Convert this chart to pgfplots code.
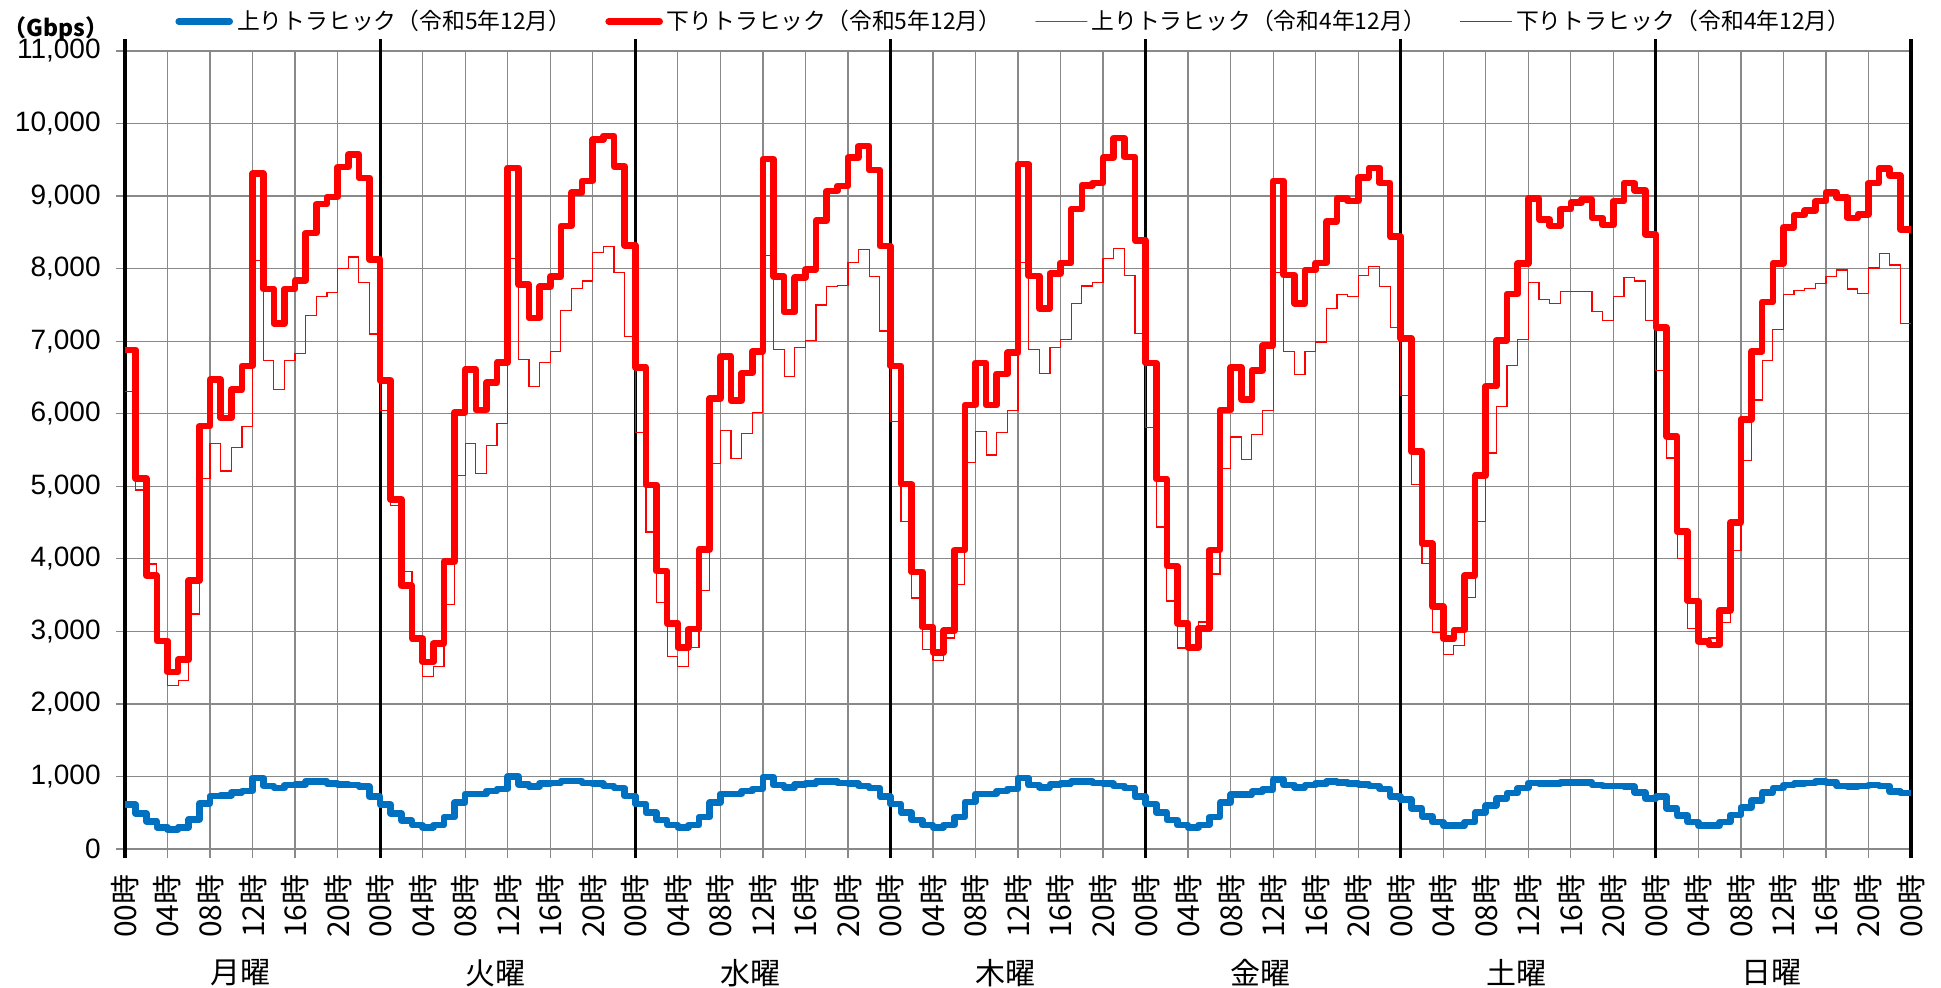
\documentclass[border=0pt]{standalone}
\usepackage{fontspec}
\setmainfont{Liberation Sans}
\newfontfamily\jp{Noto Sans CJK JP}
\usepackage{pgfplots}
\usepackage{pgfplotstable}
\pgfplotsset{compat=1.18}
\definecolor{upblue}{HTML}{0070C0}
\definecolor{dnred}{HTML}{FF0000}
\definecolor{gridgray}{HTML}{898989}

\pgfplotstableread{
h ut dt up dp
0 610 6880 600 6310
1 490 5110 480 4950
2 380 3770 370 3930
3 300 2870 290 2850
4 270 2440 260 2250
5 300 2610 290 2320
6 410 3700 400 3240
7 630 5830 610 5110
8 730 6470 720 5590
9 740 5940 730 5210
10 780 6330 770 5540
11 800 6660 790 5820
12 980 9310 960 8110
13 870 7720 860 6730
14 840 7240 830 6330
15 880 7720 870 6730
16 890 7840 880 6830
17 930 8490 920 7350
18 930 8890 920 7620
19 900 8990 890 7670
20 890 9400 880 8000
21 880 9570 870 8160
22 860 9250 850 7810
23 720 8130 710 7100
24 610 6460 600 6050
25 490 4820 480 4730
26 390 3630 380 3830
27 330 2900 320 2930
28 300 2580 290 2380
29 330 2830 320 2520
30 440 3960 430 3370
31 640 6020 630 5150
32 760 6610 750 5590
33 760 6050 750 5180
34 800 6430 790 5560
35 830 6710 820 5870
36 1000 9390 980 8140
37 890 7780 880 6750
38 860 7320 850 6370
39 900 7750 890 6710
40 910 7890 900 6860
41 940 8590 930 7420
42 940 9050 930 7730
43 910 9210 900 7830
44 900 9780 890 8220
45 870 9830 860 8310
46 840 9410 830 7950
47 730 8320 720 7070
48 620 6640 610 5740
49 500 5020 490 4370
50 400 3830 390 3400
51 330 3110 320 2650
52 300 2780 290 2520
53 330 3030 320 2780
54 440 4130 430 3560
55 640 6210 630 5310
56 760 6790 750 5770
57 760 6180 750 5380
58 800 6560 790 5730
59 830 6860 820 6020
60 990 9510 970 8180
61 880 7890 870 6890
62 850 7400 840 6510
63 890 7880 880 6910
64 900 7990 890 7010
65 930 8660 920 7500
66 930 9070 920 7750
67 910 9140 900 7770
68 900 9530 890 8090
69 870 9690 860 8260
70 840 9360 830 7890
71 720 8310 710 7140
72 620 6660 610 5890
73 500 5030 490 4520
74 400 3820 390 3460
75 330 3060 320 2750
76 300 2710 290 2600
77 330 3010 320 2910
78 440 4120 430 3650
79 650 6120 640 5330
80 760 6700 750 5760
81 760 6120 750 5430
82 800 6550 790 5740
83 830 6840 820 6040
84 980 9440 960 8080
85 880 7900 870 6890
86 850 7450 840 6560
87 890 7930 880 6910
88 900 8080 890 7020
89 930 8820 920 7520
90 930 9150 920 7760
91 910 9180 900 7810
92 900 9530 890 8140
93 870 9800 860 8280
94 840 9540 830 7910
95 720 8390 710 7110
96 620 6700 610 5810
97 500 5100 490 4440
98 400 3900 390 3420
99 330 3110 320 2770
100 300 2780 290 2760
101 330 3040 320 3130
102 440 4120 430 3790
103 640 6050 630 5250
104 750 6640 740 5680
105 750 6200 740 5370
106 790 6600 780 5710
107 820 6940 810 6040
108 960 9210 940 7950
109 880 7910 870 6860
110 850 7520 840 6540
111 880 7980 870 6860
112 900 8080 890 6990
113 930 8650 920 7450
114 920 8970 910 7640
115 900 8930 890 7620
116 890 9260 880 7910
117 870 9390 860 8030
118 830 9180 820 7750
119 720 8440 710 7190
120 680 7040 670 6250
121 560 5480 550 5020
122 450 4210 440 3940
123 370 3340 360 2980
124 320 2900 310 2680
125 320 3020 310 2800
126 370 3770 360 3470
127 500 5150 490 4510
128 600 6380 590 5460
129 700 7010 690 6100
130 770 7650 760 6660
131 840 8070 830 7020
132 910 8970 900 7810
133 900 8680 890 7580
134 900 8590 890 7520
135 920 8820 910 7680
136 920 8910 910 7680
137 920 8950 910 7680
138 880 8700 870 7410
139 870 8600 860 7290
140 870 8930 860 7620
141 860 9180 850 7880
142 780 9080 770 7830
143 700 8470 690 7290
144 720 7190 710 6600
145 560 5690 550 5390
146 460 4380 450 4000
147 370 3420 360 3040
148 320 2860 310 2860
149 320 2810 310 2910
150 370 3290 360 3120
151 470 4500 460 4120
152 570 5920 560 5360
153 670 6860 660 6190
154 780 7540 770 6730
155 840 8070 830 7160
156 880 8570 870 7640
157 900 8740 890 7700
158 910 8800 900 7730
159 930 8930 920 7800
160 920 9050 910 7890
161 870 8980 860 7980
162 860 8700 850 7720
163 870 8750 860 7660
164 880 9180 870 8010
165 870 9380 860 8210
166 790 9280 780 8050
167 770 8540 760 7240
168 770 8540 760 7240
}\traffic

\begin{document}
\begin{tikzpicture}
\path[use as bounding box] (-62.5pt,-69pt) rectangle (908pt,424.5pt);
\begin{axis}[
  at={(0pt,0pt)}, anchor=south west,
  scale only axis, width=893pt, height=399pt,
  xmin=0, xmax=168, ymin=0, ymax=11000,
  axis line style={draw=none},
  xtick={0,4,...,168},
  xticklabels={00時,04時,08時,12時,16時,20時,00時,04時,08時,12時,16時,20時,00時,04時,08時,12時,16時,20時,00時,04時,08時,12時,16時,20時,00時,04時,08時,12時,16時,20時,00時,04時,08時,12時,16時,20時,00時,04時,08時,12時,16時,20時,00時},
  xticklabel style={font=\jp\fontsize{15}{15}\selectfont, rotate=90, anchor=east, inner sep=0pt},
  xticklabel shift=8pt,
  ytick={0,1000,...,11000},
  yticklabel style={font=\fontsize{14}{14}\selectfont, anchor=east, inner sep=0pt},
  yticklabel shift=7.5pt,
  /pgf/number format/1000 sep={,},
  /pgf/number format/assume math mode=true,
  scaled y ticks=false,
  grid=major,
  grid style={gridgray, line width=0.65pt},
  tick align=outside,
  xtick pos=left, ytick pos=left,
  major tick length=4.5pt,
  tick style={gridgray, line width=0.65pt},
  clip=false,
  legend columns=4,
  legend style={draw=none, fill=none, inner sep=0pt,
    at={(axis description cs:0.028,1.037)}, anchor=west,
    font=\jp\fontsize{11.4}{11.4}\selectfont,
    /tikz/every even column/.append style={column sep=15pt}},
  legend image code/.code={\draw[#1, line cap=round] (0pt,0pt) -- (25.5pt,0pt);},
]
\draw[black, line width=1.6pt] (axis cs:0,-130) -- (axis cs:0,11170);
\draw[black, line width=1.6pt] (axis cs:24,-130) -- (axis cs:24,11170);
\draw[black, line width=1.6pt] (axis cs:48,-130) -- (axis cs:48,11170);
\draw[black, line width=1.6pt] (axis cs:72,-130) -- (axis cs:72,11170);
\draw[black, line width=1.6pt] (axis cs:96,-130) -- (axis cs:96,11170);
\draw[black, line width=1.6pt] (axis cs:120,-130) -- (axis cs:120,11170);
\draw[black, line width=1.6pt] (axis cs:144,-130) -- (axis cs:144,11170);
\draw[black, line width=1.6pt] (axis cs:168,-130) -- (axis cs:168,11170);

\addplot[const plot, upblue, line width=3.3pt, line join=round] table[x=h, y=ut] {\traffic};
\addlegendentry{上りトラヒック（令和5年12月）}
\addplot[const plot, dnred, line width=3.3pt, line join=round] table[x=h, y=dt] {\traffic};
\addlegendentry{下りトラヒック（令和5年12月）}
\addplot[const plot, upblue, line width=0.6pt] table[x=h, y=up] {\traffic};
\addlegendentry{上りトラヒック（令和4年12月）}
\addplot[const plot, dnred, line width=0.6pt] table[x=h, y=dp] {\traffic};
\addlegendentry{下りトラヒック（令和4年12月）}

\node[font=\jp\fontsize{15}{15}\selectfont, yshift=-62pt] at (axis cs:10.85,0) {月曜};
\node[font=\jp\fontsize{15}{15}\selectfont, yshift=-62pt] at (axis cs:34.85,0) {火曜};
\node[font=\jp\fontsize{15}{15}\selectfont, yshift=-62pt] at (axis cs:58.85,0) {水曜};
\node[font=\jp\fontsize{15}{15}\selectfont, yshift=-62pt] at (axis cs:82.85,0) {木曜};
\node[font=\jp\fontsize{15}{15}\selectfont, yshift=-62pt] at (axis cs:106.85,0) {金曜};
\node[font=\jp\fontsize{15}{15}\selectfont, yshift=-62pt] at (axis cs:130.85,0) {土曜};
\node[font=\jp\fontsize{15}{15}\selectfont, yshift=-62pt] at (axis cs:154.85,0) {日曜};
\node[font=\jp\bfseries\fontsize{11.5}{11.5}\selectfont, xshift=-34.5pt, yshift=11pt] at (axis cs:0,11000) {（Gbps）};
\end{axis}
\end{tikzpicture}
\end{document}
